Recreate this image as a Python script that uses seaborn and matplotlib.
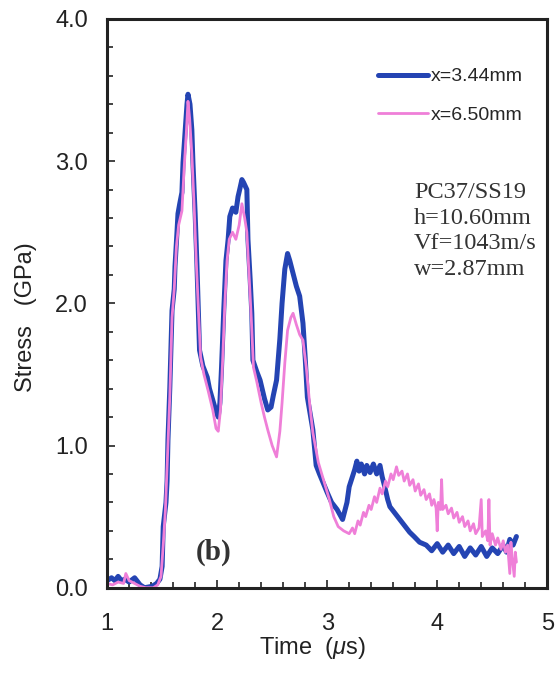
import matplotlib

matplotlib.use("Agg")
import matplotlib.pyplot as plt
from matplotlib.ticker import MultipleLocator, FormatStrFormatter
import seaborn as sns

sns.set_theme(style="white")
plt.rcParams["font.family"] = ["Liberation Sans", "DejaVu Sans"]
plt.rcParams["mathtext.fontset"] = "custom"
plt.rcParams["mathtext.it"] = "Liberation Sans:italic"

# gauge at x=3.44 mm (blue)
t_344 = [1.00, 1.04, 1.07, 1.10, 1.13, 1.16, 1.20, 1.25, 1.28, 1.30, 1.34, 1.41,
         1.45, 1.48, 1.50, 1.51, 1.535, 1.545, 1.553, 1.57, 1.59, 1.61, 1.617,
         1.635, 1.644, 1.66, 1.68, 1.69, 1.71, 1.726, 1.735, 1.753, 1.77, 1.78,
         1.80, 1.816, 1.825, 1.84, 1.87, 1.91, 1.93, 1.96, 1.99, 2.01, 2.025, 2.04,
         2.06, 2.08, 2.10, 2.115, 2.14, 2.17, 2.19, 2.205, 2.225, 2.24, 2.27, 2.28,
         2.30, 2.315, 2.325, 2.36, 2.39, 2.43, 2.46, 2.49, 2.51, 2.54, 2.57, 2.59,
         2.615, 2.64, 2.66, 2.69, 2.72, 2.75, 2.78, 2.80, 2.82, 2.87, 2.90, 2.93,
         3.00, 3.04, 3.09, 3.14, 3.18, 3.20, 3.25, 3.27, 3.29, 3.31, 3.34, 3.36,
         3.39, 3.42, 3.45, 3.48, 3.50, 3.52, 3.55, 3.57, 3.61, 3.66, 3.70, 3.75,
         3.79, 3.84, 3.90, 3.95, 4.00, 4.05, 4.10, 4.15, 4.20, 4.25, 4.30, 4.35,
         4.40, 4.45, 4.50, 4.55, 4.60, 4.63, 4.66, 4.69, 4.72]
s_344 = [0.05, 0.07, 0.05, 0.08, 0.05, 0.06, 0.04, 0.07, 0.04, 0.02, 0.00, 0.01,
         0.03, 0.06, 0.15, 0.43, 0.60, 0.75, 1.04, 1.41, 1.95, 2.10, 2.26,
         2.50, 2.63, 2.70, 2.78, 2.99, 3.22, 3.40, 3.47, 3.40, 3.22, 2.99,
         2.63, 2.28, 2.05, 1.67, 1.56, 1.48, 1.40, 1.32, 1.24, 1.20, 1.30, 1.55,
         1.95, 2.30, 2.45, 2.61, 2.67, 2.64, 2.75, 2.80, 2.87, 2.85, 2.80, 2.45,
         2.17, 1.93, 1.60, 1.52, 1.46, 1.33, 1.25, 1.27, 1.35, 1.46, 1.75, 2.00,
         2.24, 2.35, 2.30, 2.21, 2.12, 2.05, 1.86, 1.62, 1.34, 1.11, 0.86, 0.80,
         0.67, 0.60, 0.55, 0.48, 0.60, 0.71, 0.83, 0.89, 0.82, 0.87, 0.80, 0.86,
         0.81, 0.87, 0.80, 0.86, 0.78, 0.72, 0.62, 0.57, 0.53, 0.48, 0.44, 0.39,
         0.36, 0.32, 0.30, 0.26, 0.31, 0.25, 0.30, 0.24, 0.29, 0.22, 0.28, 0.23,
         0.29, 0.22, 0.28, 0.24, 0.30, 0.25, 0.34, 0.30, 0.36]

# gauge at x=6.50 mm (pink)
t_650 = [1.00, 1.05, 1.10, 1.15, 1.17, 1.20, 1.25, 1.30, 1.35, 1.42, 1.46, 1.49,
         1.51, 1.53, 1.55, 1.57, 1.59, 1.61, 1.63, 1.65, 1.68, 1.70, 1.72, 1.735,
         1.75, 1.77, 1.79, 1.81, 1.83, 1.85, 1.88, 1.92, 1.96, 1.99, 2.01, 2.03,
         2.05, 2.07, 2.09, 2.11, 2.14, 2.17, 2.20, 2.225, 2.25, 2.27, 2.29, 2.31,
         2.33, 2.36, 2.40, 2.43, 2.46, 2.50, 2.54, 2.57, 2.59, 2.615, 2.64, 2.67,
         2.69, 2.72, 2.75, 2.78, 2.81, 2.84, 2.87, 2.92, 2.97, 3.02, 3.06, 3.10,
         3.15, 3.20, 3.23, 3.25, 3.28, 3.30, 3.33, 3.35, 3.38, 3.40, 3.43, 3.45,
         3.48, 3.50, 3.53, 3.55, 3.58, 3.60, 3.63, 3.65, 3.68, 3.70, 3.73, 3.75,
         3.78, 3.80, 3.83, 3.85, 3.88, 3.90, 3.93, 3.95, 3.97, 3.99, 4.00, 4.01,
         4.03, 4.04, 4.05, 4.08, 4.10, 4.13, 4.15, 4.18, 4.20, 4.23, 4.25, 4.28,
         4.30, 4.33, 4.35, 4.38, 4.40, 4.41, 4.44, 4.46, 4.47, 4.48, 4.50, 4.53,
         4.55, 4.58, 4.60, 4.62, 4.64, 4.66, 4.67, 4.68, 4.70, 4.71, 4.72]
s_650 = [0.03, 0.02, 0.04, 0.03, 0.10, 0.05, 0.03, 0.01, 0.00, 0.00, 0.02, 0.08,
         0.30, 0.55, 0.95, 1.35, 1.90, 2.10, 2.40, 2.55, 2.65, 2.95, 3.20, 3.42,
         3.30, 3.05, 2.70, 2.30, 1.95, 1.62, 1.50, 1.38, 1.25, 1.12, 1.10, 1.25,
         1.60, 2.00, 2.30, 2.45, 2.50, 2.45, 2.55, 2.70, 2.60, 2.50, 2.20, 1.90,
         1.55, 1.45, 1.30, 1.20, 1.11, 1.00, 0.92, 1.10, 1.30, 1.58, 1.81, 1.90,
         1.93, 1.85, 1.78, 1.74, 1.55, 1.30, 1.09, 0.88, 0.75, 0.62, 0.50, 0.43,
         0.40, 0.38, 0.42, 0.38, 0.47, 0.44, 0.53, 0.50, 0.58, 0.55, 0.64, 0.60,
         0.70, 0.66, 0.75, 0.71, 0.80, 0.76, 0.85, 0.79, 0.82, 0.75, 0.80, 0.72,
         0.76, 0.68, 0.73, 0.65, 0.69, 0.62, 0.66, 0.58, 0.62, 0.56, 0.40, 0.60,
         0.55, 0.76, 0.55, 0.58, 0.52, 0.56, 0.49, 0.53, 0.46, 0.50, 0.43, 0.47,
         0.40, 0.45, 0.38, 0.42, 0.62, 0.36, 0.40, 0.33, 0.62, 0.30, 0.38, 0.30,
         0.35, 0.27, 0.33, 0.25, 0.30, 0.10, 0.32, 0.22, 0.08, 0.25, 0.18]

BLUE = "#2444b3"
PINK = "#ef7fd8"
INK = "#222222"

fig, ax = plt.subplots(figsize=(5.55, 6.74), dpi=100)
fig.subplots_adjust(left=0.193, right=0.986, bottom=0.128, top=0.972)

sns.lineplot(x=t_344, y=s_344, ax=ax, color=BLUE, linewidth=3.6,
             estimator=None, sort=False, label="x=3.44mm")
sns.lineplot(x=t_650, y=s_650, ax=ax, color=PINK, linewidth=2.0,
             estimator=None, sort=False, label="x=6.50mm")

ax.set_xlim(1, 5)
ax.set_ylim(0, 4)
ax.xaxis.set_major_locator(MultipleLocator(1))
ax.xaxis.set_minor_locator(MultipleLocator(0.2))
ax.yaxis.set_major_locator(MultipleLocator(1))
ax.yaxis.set_minor_locator(MultipleLocator(0.2))
ax.xaxis.set_major_formatter(FormatStrFormatter("%d"))
ax.yaxis.set_major_formatter(FormatStrFormatter("%.1f"))
ax.tick_params(which="both", direction="in", left=True, bottom=True,
               top=False, right=False, color=INK, width=1.2)
ax.tick_params(which="major", length=6, labelsize=17, colors=INK)
ax.tick_params(which="minor", length=4)
ax.tick_params(axis="x", which="major", pad=18)
ax.tick_params(axis="y", which="major", pad=13.7)

for sp in ax.spines.values():
    sp.set_linewidth(2.2)
    sp.set_color(INK)

ax.set_xlabel("Time  ($\\mu$s)", fontsize=17, color=INK)
ax.xaxis.set_label_coords(0.466, -0.083)
ax.set_ylabel("Stress   (GPa)", fontsize=17, color=INK)
ax.yaxis.set_label_coords(-0.159, 0.475)

ax.legend(loc="upper left", bbox_to_anchor=(0.616, 0.914), frameon=False,
          fontsize=14, handlelength=2.55, handletextpad=0.15, labelspacing=1.08,
          borderpad=0, borderaxespad=0)

ax.text(3.79, 2.855, "PC37/SS19\nh=10.60mm\nVf=1043m/s\nw=2.87mm",
        family="Liberation Serif", fontsize=17.5, color="#333333",
        va="top", ha="left", linespacing=1.3)
ax.text(1.97, 0.25, "(b)", family="Liberation Serif", fontsize=21,
        fontweight="bold", color="#333333", ha="center", va="center")

fig.savefig("out.png", dpi=100)
